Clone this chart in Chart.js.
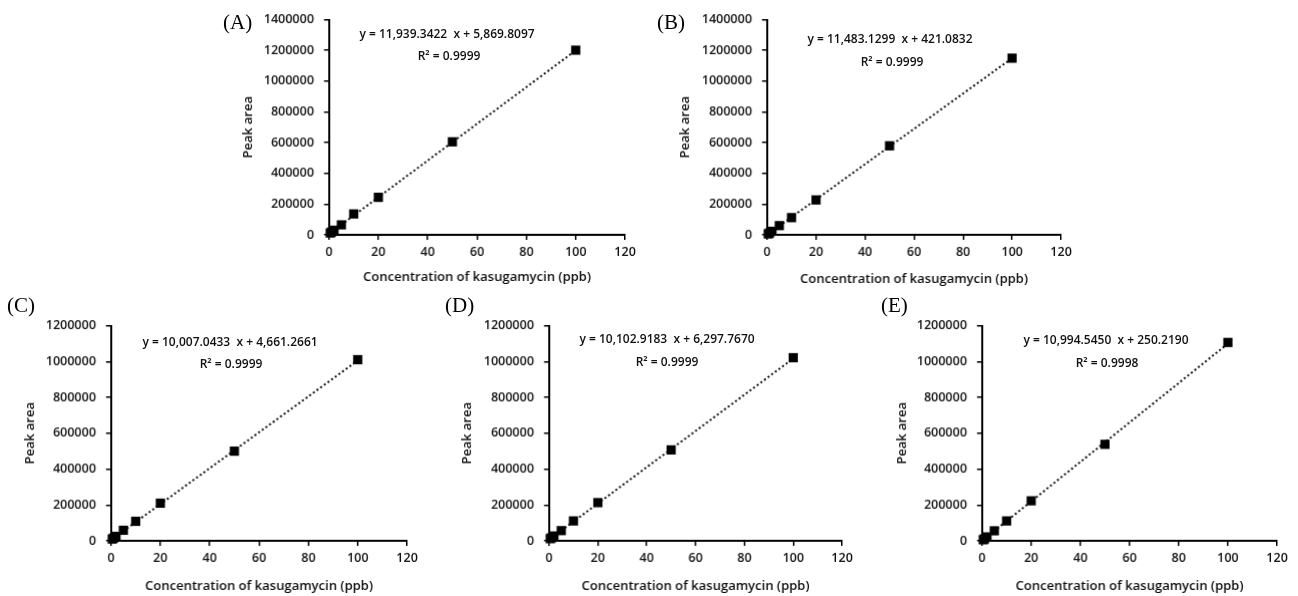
<!DOCTYPE html>
<html>
<head>
<meta charset="utf-8">
<title>Kasugamycin calibration curves</title>
<script src="https://cdn.jsdelivr.net/npm/chart.js@4"></script>
<style>
  body { margin: 0; background: #fff; width: 1298px; height: 596px; position: relative; overflow: hidden; font-family: "Open Sans", sans-serif; }
  .panel { position: absolute; }
  .tag { position: absolute; font-family: "Liberation Serif", "Times New Roman", serif; font-size: 21px; color: #000; line-height: 1; transform: translateY(-50%); }
  .eq { position: absolute; font-size: 12px; font-weight: 600; color: #111; transform: translate(-50%, -50%); white-space: pre; }
</style>
</head>
<body>
<script>
// Data
const concentrations = [0.5, 1, 2, 5, 10, 20, 50, 100];
const areaA = [12000, 18000, 30000, 65000, 136000, 244000, 605000, 1201000];
const areaB = [6000, 12000, 23000, 60000, 112000, 227000, 579000, 1149000];
const areaC = [10000, 15000, 25000, 59000, 109000, 210000, 500000, 1010000];
const areaD = [12000, 17000, 27000, 57000, 111000, 213000, 507000, 1021000];
const areaE = [6000, 11000, 22000, 56000, 111000, 223000, 538000, 1106000];

const slopes = [11939.3422, 11483.1299, 10007.0433, 10102.9183, 10994.5450];
const intercepts = [5869.8097, 421.0832, 4661.2661, 6297.7670, 250.2190];
const equations = [
  'y = 11,939.3422  x + 5,869.8097',
  'y = 11,483.1299  x + 421.0832',
  'y = 10,007.0433  x + 4,661.2661',
  'y = 10,102.9183  x + 6,297.7670',
  'y = 10,994.5450  x + 250.2190'
];
const rSquared = ['R² = 0.9999', 'R² = 0.9999', 'R² = 0.9999', 'R² = 0.9999', 'R² = 0.9998'];
const panelTags = ['(A)', '(B)', '(C)', '(D)', '(E)'];
const yMaxes = [1400000, 1400000, 1200000, 1200000, 1200000];
const yStep = 200000;
const xMax = 120;
const xStep = 20;
const xTitle = 'Concentration of kasugamycin (ppb)';
const yTitle = 'Peak area';

const series = [areaA, areaB, areaC, areaD, areaE];

// Page layout (pixels): plot box, axis title centres, tag and equation centres
const layout = [
  { l: 329, r: 626, t: 18, b: 234, yt: 248, xt: 276, tag: [223, 22], eq: [447, 33], r2: [449, 55] },
  { l: 767, r: 1062, t: 18, b: 234, yt: 685, xt: 278, tag: [657, 22], eq: [890, 38], r2: [892, 61] },
  { l: 111, r: 408, t: 324, b: 540, yt: 30, xt: 585, tag: [7, 305], eq: [230, 341], r2: [231, 363] },
  { l: 549, r: 843, t: 324, b: 540, yt: 467, xt: 585, tag: [445, 305], eq: [667, 338], r2: [667, 361] },
  { l: 982, r: 1278, t: 324, b: 540, yt: 902, xt: 585, tag: [881, 305], eq: [1106, 339], r2: [1107, 362] }
];

const TITLE_OFF = 11.8; // half line height + title padding
const tickFont = { family: '"Open Sans", sans-serif', size: 12.5, weight: '600' };
const titleFont = { family: '"Open Sans", sans-serif', size: 13, weight: '600' };

function addText(cls, text, pos) {
  const el = document.createElement('div');
  el.className = cls;
  el.textContent = text;
  el.style.left = pos[0] + 'px';
  el.style.top = pos[1] + 'px';
  document.body.appendChild(el);
}

series.forEach((values, i) => {
  const box = layout[i];
  const padTop = 16, padRight = 14;
  const left = box.yt - TITLE_OFF;
  const top = box.t - padTop;
  const bottom = box.xt + TITLE_OFF;
  const width = box.r + padRight - left;
  const height = bottom - top;
  const yAxisWidth = box.l - left;
  const xAxisHeight = bottom - box.b;

  const div = document.createElement('div');
  div.className = 'panel';
  div.style.left = left + 'px';
  div.style.top = top + 'px';
  div.style.width = width + 'px';
  div.style.height = height + 'px';
  const canvas = document.createElement('canvas');
  div.appendChild(canvas);
  document.body.appendChild(div);

  const points = concentrations.map((c, k) => ({ x: c, y: values[k] }));
  const xFirst = concentrations[0];
  const xLast = concentrations[concentrations.length - 1];
  const fitLine = [
    { x: xFirst, y: slopes[i] * xFirst + intercepts[i] },
    { x: xLast, y: slopes[i] * xLast + intercepts[i] }
  ];

  new Chart(canvas.getContext('2d'), {
    type: 'scatter',
    data: {
      datasets: [
        {
          data: points,
          pointStyle: 'rect',
          pointRadius: 6.5,
          backgroundColor: '#000',
          borderWidth: 0,
          clip: false
        },
        {
          data: fitLine,
          showLine: true,
          pointRadius: 0,
          borderColor: '#111',
          borderWidth: 2,
          borderDash: [2, 2.5],
          clip: false
        }
      ]
    },
    options: {
      responsive: true,
      maintainAspectRatio: false,
      animation: false,
      layout: { padding: { left: 0, right: padRight, top: padTop, bottom: 0 } },
      plugins: { legend: { display: false }, tooltip: { enabled: false } },
      scales: {
        x: {
          type: 'linear',
          min: 0,
          max: xMax,
          afterFit: s => { s.height = xAxisHeight; },
          ticks: { stepSize: xStep, color: '#111', font: tickFont, padding: 5 },
          grid: { drawOnChartArea: false, tickLength: 5, color: '#000', lineWidth: 1.5 },
          border: { color: '#000', width: 2 },
          title: { display: true, text: xTitle, color: '#111', font: titleFont }
        },
        y: {
          min: 0,
          max: yMaxes[i],
          afterFit: s => { s.width = yAxisWidth; },
          ticks: { stepSize: yStep, color: '#111', font: tickFont, padding: 10, callback: v => String(v) },
          grid: { drawOnChartArea: false, tickLength: 5, color: '#000', lineWidth: 1.5 },
          border: { color: '#000', width: 2 },
          title: { display: true, text: yTitle, color: '#111', font: titleFont }
        }
      }
    }
  });

  addText('tag', panelTags[i], layout[i].tag);
  addText('eq', equations[i], layout[i].eq);
  addText('eq', rSquared[i], layout[i].r2);
});
</script>
</body>
</html>
